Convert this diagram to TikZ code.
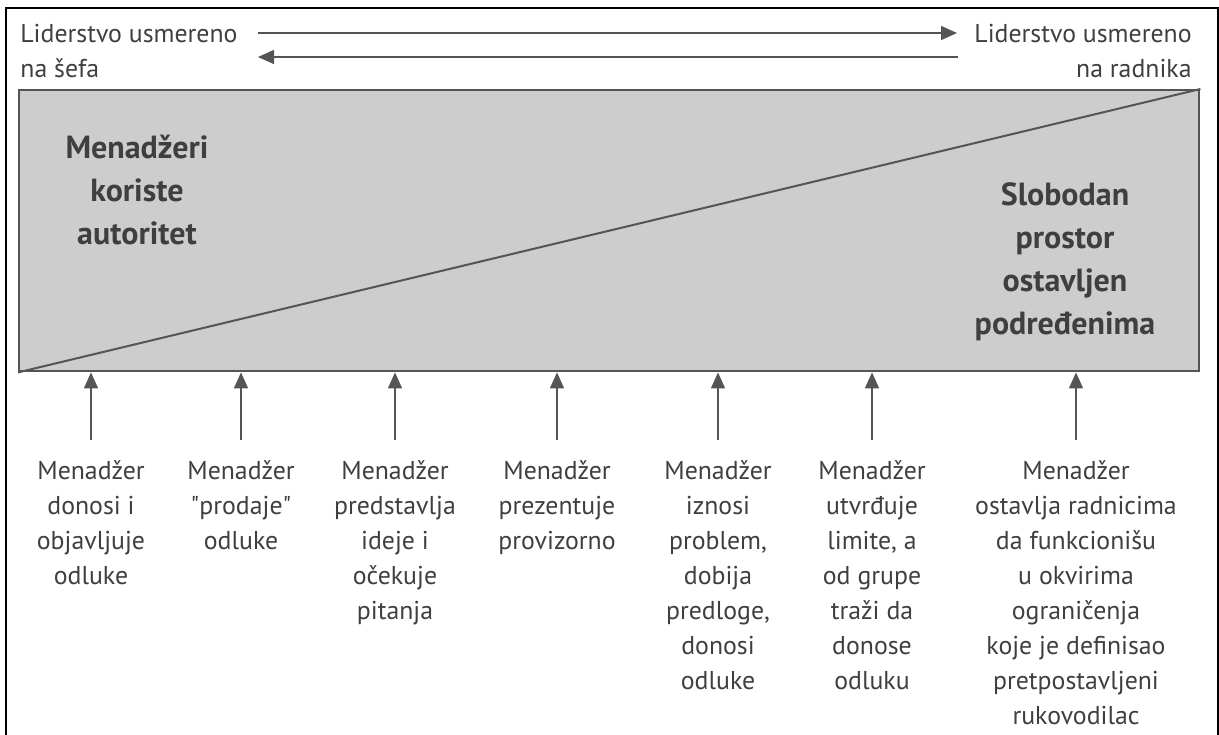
\documentclass[tikz,border=0pt]{standalone}
\usepackage{fontspec}
\setmainfont{PT Sans}
\usetikzlibrary{arrows.meta}

\definecolor{txtgray}{HTML}{3F3F3F}
\definecolor{boxgray}{HTML}{CDCDCD}
\definecolor{linegray}{HTML}{555555}

\tikzset{
    lbl/.style={align=center, text=txtgray, inner sep=0pt, anchor=north,
        font=\fontsize{12.9}{17.5}\selectfont},
    biglbl/.style={align=center, text=txtgray, inner sep=0pt, anchor=north,
        font=\fontsize{16}{21.5}\selectfont\bfseries},
    uparrow/.style={draw=linegray, line width=0.75pt,
        -{Triangle[length=8pt,width=7pt]}}
}

\begin{document}
\begin{tikzpicture}[x=0.5pt, y=-0.5pt]

    \useasboundingbox (0,0) rectangle (1219,734);
    \draw[line width=1.2pt] (6,8) rectangle (1218,760);

    % top labels
    \node[lbl, anchor=north west, align=left] (boss) at (20,24) {Liderstvo usmereno\\na šefa};
    \node[lbl, anchor=north east, align=right] (worker) at (1192,24) {Liderstvo usmereno\\na radnika};

    \coordinate (topL) at (258,33);
    \coordinate (topR) at (957,33);
    \coordinate (botR) at (958,57);
    \coordinate (botL) at (258,57);
    \draw[uparrow] (topL) -- (topR);
    \draw[uparrow] (botR) -- (botL);

    % gray box with diagonal
    \node[draw=linegray, fill=boxgray, line width=1.2pt, inner sep=0pt,
        minimum width=590pt, minimum height=140.5pt, anchor=north west] (box) at (18,89) {};
    \draw[linegray, line width=1pt] (box.south west) -- (box.north east);

    \node[biglbl] (auth) at (137,135) {Menadžeri\\koriste\\autoritet};
    \node[biglbl] (free) at (1065,182) {Slobodan\\prostor\\ostavljen\\podređenima};

    % bottom labels
    \node[lbl] (m1) at (91,460) {Menadžer\\donosi i\\objavljuje\\odluke};
    \node[lbl] (m2) at (241,460) {Menadžer\\\textquotedbl prodaje\textquotedbl\\odluke};
    \node[lbl] (m3) at (395,460) {Menadžer\\predstavlja\\ideje i\\očekuje\\pitanja};
    \node[lbl] (m4) at (557,460) {Menadžer\\prezentuje\\provizorno};
    \node[lbl] (m5) at (718,460) {Menadžer\\iznosi\\problem,\\dobija\\predloge,\\donosi\\odluke};
    \node[lbl] (m6) at (872,460) {Menadžer\\utvrđuje\\limite, a\\od grupe\\traži da\\donose\\odluku};
    \node[lbl] (m7) at (1076,460) {Menadžer\\ostavlja radnicima\\da funkcionišu\\u okvirima\\ograničenja\\koje je definisao\\pretpostavljeni\\rukovodilac};

    \foreach \n in {m1,m2,m3,m4,m5,m6,m7}
        \draw[uparrow] ([yshift=10pt]\n.north) -- (\n.north |- box.south);

\end{tikzpicture}
\end{document}
